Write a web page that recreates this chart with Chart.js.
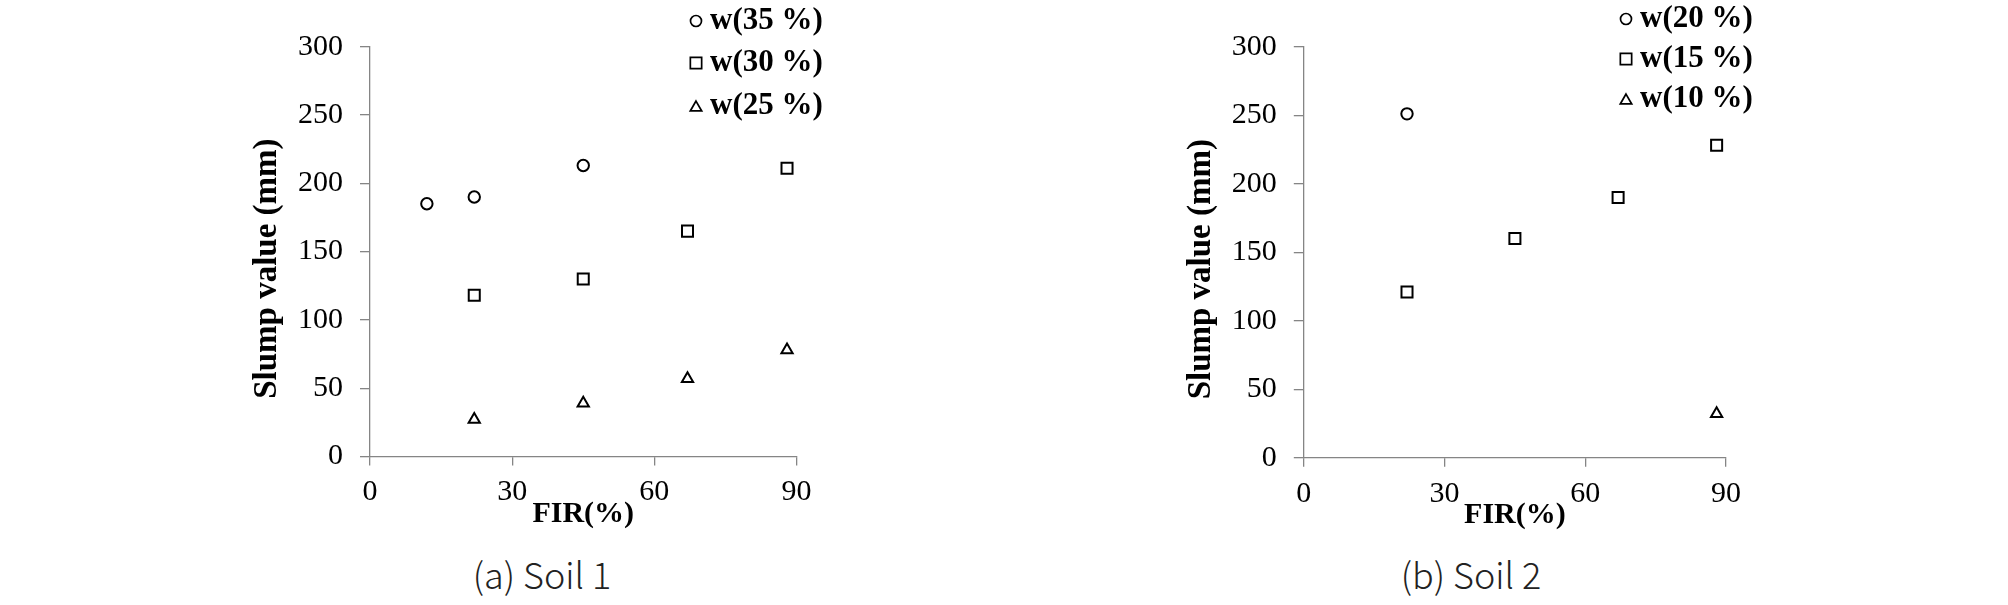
<!DOCTYPE html>
<html>
<head>
<meta charset="utf-8">
<script src="https://cdn.jsdelivr.net/npm/chart.js@4.4.1/dist/chart.umd.min.js"></script>
<style>
  body { margin: 0; background: #fff; width: 2008px; height: 605px; position: relative; overflow: hidden; }
  .box { position: absolute; top: 0; width: 1004px; height: 540px; }
  .cap { position: absolute; top: 550px; font-family: "Noto Sans CJK KR", "Noto Sans", sans-serif; font-weight: 300;
         font-size: 36px; line-height: 46px; color: #222; transform: translateX(-50%); white-space: nowrap; }
</style>
</head>
<body>
<div class="box" style="left:0"><canvas id="g1" width="1004" height="540"></canvas></div>
<div class="box" style="left:1004px"><canvas id="g2" width="1004" height="540"></canvas></div>
<div class="cap" style="left:542px">(a) Soil 1</div>
<div class="cap" style="left:1471px">(b) Soil 2</div>
<script>
// axes
const xTicks = [0, 30, 60, 90];
const yTicks = [0, 50, 100, 150, 200, 250, 300];
const xTitle = "FIR(%)";
const yTitle = "Slump value (mm)";

// Soil 1
const soil1Labels = ["w(35 %)", "w(30 %)", "w(25 %)"];
const soil1W35x = [12, 22, 45];
const soil1W35y = [185, 190, 213];
const soil1W30x = [22, 45, 67, 88];
const soil1W30y = [118, 130, 165, 211];
const soil1W25x = [22, 45, 67, 88];
const soil1W25y = [27, 39, 57, 78];

// Soil 2
const soil2Labels = ["w(20 %)", "w(15 %)", "w(10 %)"];
const soil2W20x = [22];
const soil2W20y = [251];
const soil2W15x = [22, 45, 67, 88];
const soil2W15y = [121, 160, 190, 228];
const soil2W10x = [88];
const soil2W10y = [32];

const styles = ["circle", "rect", "triangle"];
const dotSize = { circle: 5.7, rect: 7.8, triangle: 6.5 };
const keySize = { circle: 5.5, rect: 8, triangle: 6.6 };
const serif = '"Liberation Serif", "Times New Roman", serif';

function pts(xs, ys) {
  return xs.map((x, i) => ({ x: x, y: ys[i] }));
}

function drawMark(ctx, style, x, y, r) {
  ctx.beginPath();
  if (style === "circle") {
    ctx.arc(x, y, r, 0, Math.PI * 2);
  } else if (style === "rect") {
    const s = Math.SQRT1_2 * r;
    ctx.rect(x - s, y - s, 2 * s, 2 * s);
  } else {
    const w = Math.sin(Math.PI / 3) * r;
    y += r / 4;
    ctx.moveTo(x, y - r);
    ctx.lineTo(x + w, y + r / 2);
    ctx.lineTo(x - w, y + r / 2);
    ctx.closePath();
  }
  ctx.stroke();
}

// legend in the upper right corner, items stacked
const sideLegend = {
  id: "sideLegend",
  afterDraw(chart, args, opts) {
    const ctx = chart.ctx;
    ctx.save();
    ctx.font = "bold 31px " + serif;
    ctx.textBaseline = "middle";
    ctx.fillStyle = "#000";
    ctx.strokeStyle = "#000";
    ctx.lineWidth = 1.7;
    chart.data.datasets.forEach((ds, i) => {
      const y = opts.rows[i];
      drawMark(ctx, ds.pointStyle, opts.x, y, keySize[ds.pointStyle]);
      ctx.fillText(ds.label, opts.x + 14, y);
    });
    ctx.restore();
  }
};

// rotated y title, a bit below the middle of the axis
const sideTitle = {
  id: "sideTitle",
  afterDraw(chart, args, opts) {
    const a = chart.chartArea;
    const ctx = chart.ctx;
    ctx.save();
    ctx.translate(a.left - opts.dx, (a.top + a.bottom) / 2 + opts.dy);
    ctx.rotate(-Math.PI / 2);
    ctx.font = "bold 33px " + serif;
    ctx.fillStyle = "#000";
    ctx.textAlign = "center";
    ctx.textBaseline = "alphabetic";
    ctx.fillText(opts.text, 0, 0);
    ctx.restore();
  }
};

function makeChart(id, labels, series, pad, legendX, legendRows) {
  const datasets = series.map((s, i) => ({
    label: labels[i],
    data: pts(s[0], s[1]),
    pointStyle: styles[i],
    pointRadius: dotSize[styles[i]],
    pointHoverRadius: dotSize[styles[i]],
    pointBorderWidth: 2,
    borderColor: "#000",
    backgroundColor: "rgba(0,0,0,0)",
    showLine: false
  }));

  const axisLine = "#858585";
  return new Chart(document.getElementById(id), {
    type: "scatter",
    data: { datasets },
    plugins: [sideLegend, sideTitle],
    options: {
      responsive: false,
      animation: false,
      layout: { padding: pad },
      plugins: {
        legend: { display: false },
        tooltip: { enabled: false },
        sideLegend: { x: legendX, rows: legendRows },
        sideTitle: { text: yTitle, dx: 94, dy: 17 }
      },
      scales: {
        x: {
          type: "linear",
          min: 0,
          max: 90,
          afterBuildTicks: s => { s.ticks = xTicks.map(v => ({ value: v })); },
          afterFit: s => { s.height = 80; },
          ticks: { font: { family: serif, size: 30 }, color: "#000", padding: 9, maxRotation: 0 },
          grid: { drawOnChartArea: false, drawTicks: true, tickLength: 9, color: axisLine, lineWidth: 1.3 },
          border: { color: axisLine, width: 1.3 },
          title: { display: true, text: xTitle, color: "#000", font: { family: serif, size: 30, weight: "bold" },
                   padding: { top: 0, bottom: 4 } }
        },
        y: {
          type: "linear",
          min: 0,
          max: 300,
          afterBuildTicks: s => { s.ticks = yTicks.map(v => ({ value: v })); },
          afterFit: s => { s.width = 120; },
          ticks: { font: { family: serif, size: 30 }, color: "#000", padding: 17 },
          grid: { drawOnChartArea: false, drawTicks: true, tickLength: 10, color: axisLine, lineWidth: 1.3 },
          border: { color: axisLine, width: 1.3 }
        }
      }
    }
  });
}

makeChart("g1", soil1Labels,
  [[soil1W35x, soil1W35y], [soil1W30x, soil1W30y], [soil1W25x, soil1W25y]],
  { left: 250, right: 207.5, top: 46.7, bottom: 3.5 },
  696, [21, 63, 106]);

makeChart("g2", soil2Labels,
  [[soil2W20x, soil2W20y], [soil2W15x, soil2W15y], [soil2W10x, soil2W10y]],
  { left: 179.8, right: 282, top: 46.7, bottom: 2.3 },
  622, [19, 59, 99]);
</script>
</body>
</html>
